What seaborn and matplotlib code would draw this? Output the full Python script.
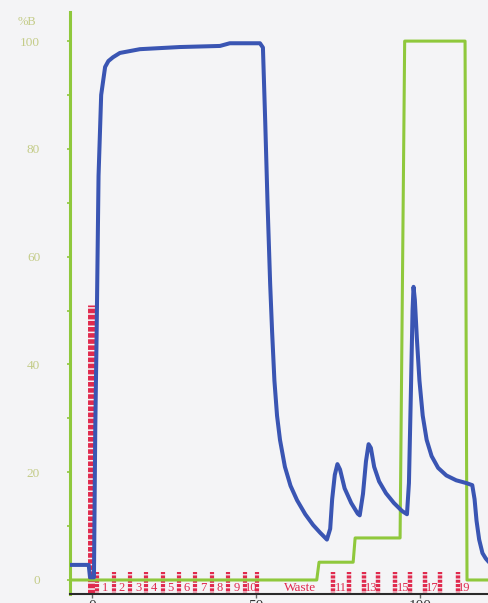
import matplotlib
matplotlib.use("Agg")
import matplotlib.pyplot as plt
import pandas as pd
import seaborn as sns

# UV absorbance trace, scaled to the %B axis
uv_time = [-6.7, -1.0, -0.6, 0.6, 1.0, 1.4, 2.0, 2.8, 4.0, 5.0, 6.4, 8.5, 14.6,
           26.8, 39.0, 42.0, 51.2, 52.1, 52.8, 53.5, 54.3, 54.9, 55.6, 56.4,
           57.3, 58.8, 60.5, 62.5, 65.0, 67.4, 69.5, 71.6, 72.6, 73.2, 74.0,
           74.8, 75.6, 77.0, 79.0, 81.0, 81.6, 82.6, 83.5, 84.3, 85.0, 86.0,
           87.5, 89.6, 92.0, 94.5, 96.0, 96.6, 97.2, 97.7, 98.0, 98.4, 99.0,
           99.8, 100.8, 102.0, 103.5, 105.5, 108.0, 111.0, 114.0, 115.9, 116.6,
           117.2, 118.0, 119.0, 120.0, 121.0]
uv_signal = [2.8, 2.8, 0.5, 0.5, 28.0, 45.0, 75.0, 90.0, 95.2, 96.3, 97.0, 97.8,
             98.5, 98.9, 99.1, 99.6, 99.6, 98.8, 85.0, 70.0, 55.0, 46.0, 37.0,
             30.5, 26.0, 21.0, 17.5, 14.8, 12.2, 10.2, 8.8, 7.5, 9.5, 15.0,
             19.5, 21.5, 20.5, 17.0, 14.3, 12.3, 12.0, 16.0, 22.0, 25.2, 24.5,
             21.0, 18.3, 16.1, 14.3, 12.8, 12.2, 18.0, 35.0, 50.0, 54.4, 52.0,
             45.0, 37.0, 30.5, 26.0, 23.0, 20.8, 19.4, 18.5, 18.0, 17.6, 15.0,
             11.0, 7.5, 5.0, 4.0, 3.3]

# Gradient programme (% buffer B)
grad_time = [-6.7, 68.5, 69.2, 79.6, 80.2, 93.9, 95.3, 113.7, 114.3, 121.0]
grad_b = [0.0, 0.0, 3.3, 3.3, 7.8, 7.8, 100.0, 100.0, 0.0, 0.0]

# Fraction collector events
inject_time = -0.45
inject_top = 51.0
frac_marks_a = [1.5, 6.6, 11.6, 16.5, 21.5, 26.4, 31.4, 36.6, 41.5, 46.6, 50.2]
frac_labels_a = ["1", "2", "3", "4", "5", "6", "7", "8", "9", "10"]
frac_marks_b = [73.5, 78.4, 82.8, 87.2, 92.4, 97.0, 101.5, 106.0, 111.6]
frac_labels_b = ["11", "13", "15", "17", "19"]
waste_label = "Waste"

bg = "#f4f4f6"
green = "#8fc83c"
blue = "#3a55b3"
red = "#e02a4e"
pale = "#c4cc88"

sns.set_style("white")
plt.rcParams["font.family"] = ["Liberation Serif", "DejaVu Serif"]
plt.rcParams["lines.scale_dashes"] = False

fig = plt.figure(figsize=(4.89, 6.03), dpi=100, facecolor=bg)
ax = fig.add_axes([70 / 489, 9 / 603, 419 / 489, 582 / 603])
ax.set_facecolor(bg)

# fraction marks and the injection bar
ax.vlines(inject_time, -3.8, inject_top, colors=red, linewidth=5.0,
          linestyles=(0, (3.3, 1.1)), zorder=2)
ax.vlines(frac_marks_a, -3.8, 1.4, colors=red, linewidth=3.0,
          linestyles=(0, (2.2, 0.9)), zorder=2)
ax.vlines(frac_marks_b, -3.8, 1.4, colors=red, linewidth=3.2,
          linestyles=(0, (2.2, 0.9)), zorder=2)

for i, lab in enumerate(frac_labels_a):
    xc = (frac_marks_a[i] + frac_marks_a[i + 1]) / 2
    ax.text(xc, -1.5, lab, color=red, fontsize=9, ha="center", va="center",
            zorder=1.5)
for j, lab in enumerate(frac_labels_b):
    k = 2 * j
    if k + 1 < len(frac_marks_b):
        xc = (frac_marks_b[k] + frac_marks_b[k + 1]) / 2
    else:
        xc = frac_marks_b[-1] + 1.8
    ax.text(xc, -1.5, lab, color=red, fontsize=9, ha="center", va="center",
            zorder=1.5)
ax.text(63.5, -1.5, waste_label, color=red, fontsize=9.5, ha="center",
        va="center")

grad_df = pd.DataFrame({"time": grad_time, "B": grad_b})
uv_df = pd.DataFrame({"time": uv_time, "signal": uv_signal})

sns.lineplot(data=grad_df, x="time", y="B", ax=ax, color=green, linewidth=2.2,
             sort=False, estimator=None, zorder=3)
sns.lineplot(data=uv_df, x="time", y="signal", ax=ax, color=blue,
             linewidth=2.9, sort=False, estimator=None, zorder=4)

ax.set_xlim(-6.7, 121.0)
ax.set_ylim(-2.6, 105.4)
ax.set_xlabel("")
ax.set_ylabel("")

ax.set_yticks([0, 20, 40, 60, 80, 100])
ax.set_yticks([10, 30, 50, 70, 90], minor=True)
ax.tick_params(axis="y", which="both", direction="out", length=2.5, width=1.2,
               color=green, labelcolor=pale, labelsize=9.5, pad=19, left=True)
ax.set_xticks([0, 50, 100])
ax.tick_params(axis="x", direction="out", length=3, width=1.0, color="#666666",
               labelcolor="#333333", labelsize=11, pad=1, bottom=True)

for side in ("top", "right"):
    ax.spines[side].set_visible(False)
ax.spines["left"].set_color(green)
ax.spines["left"].set_linewidth(2.2)
ax.spines["bottom"].set_color("#2a2a2a")
ax.spines["bottom"].set_linewidth(1.5)

fig.text(27 / 489, 1 - 22 / 603, "%B", color=pale, fontsize=9, ha="center",
         va="center")

fig.savefig("out.png", dpi=100, facecolor=bg)
